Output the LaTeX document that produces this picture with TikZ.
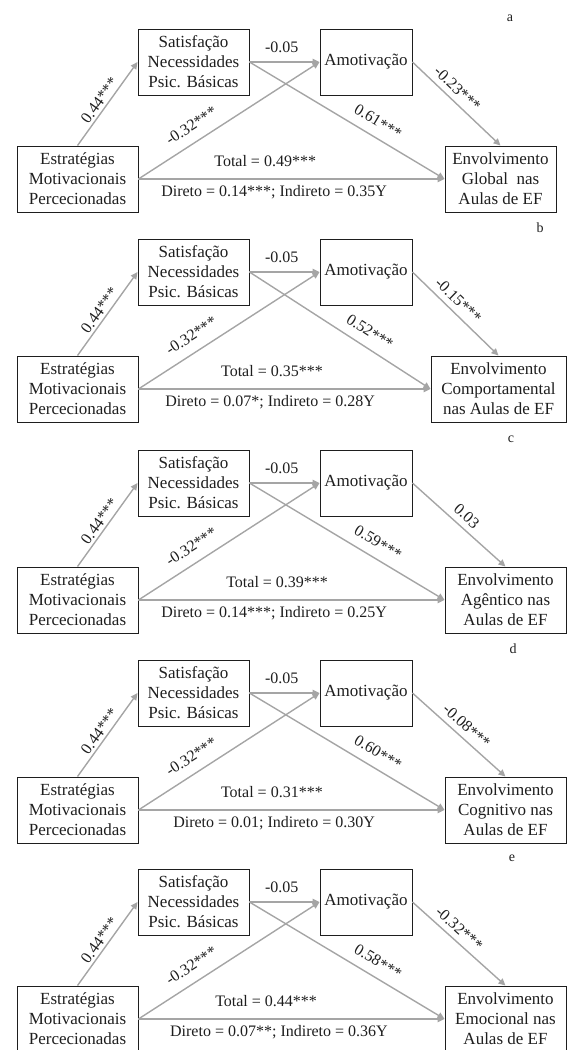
\documentclass[tikz,border=0pt]{standalone}
\usepackage{fontspec}
\setmainfont{Liberation Serif}
\usetikzlibrary{arrows.meta}
\definecolor{arrgray}{RGB}{165,165,165}
\definecolor{ink}{RGB}{30,30,30}
\tikzset{
  box/.style={draw=ink, line width=0.9pt, text=ink, align=center, inner sep=0pt,
    minimum height=66, font=\fontsize{17}{20}\selectfont},
  arr/.style={draw=arrgray, line width=1.4pt, -{Triangle[length=7pt,width=6.5pt]}},
  lab/.style={text=ink, font=\fontsize{16}{18}\selectfont, inner sep=1pt},
  lett/.style={text=ink, font=\fontsize{14}{16}\selectfont},
}
% #1 y offset, #2 letter, #3 letter x, #4 outcome lines, #5 outcome centre x,
% #6 outcome width, #7 Satisf->Env label, #8 Amot->Env label, #9 total label
\newcommand\Panel[9]{%
\begin{scope}[shift={(0,#1)}]
  \node[lett] (L#2) at (#3,18) {#2};
  \node[box, minimum width=111] (S#2) at (193.5,62) {Satisfação\\Necessidades\\Psic. Básicas};
  \node[box, minimum width=92] (A#2) at (366,62) {Amotivação};
  \node[box, minimum width=121] (E#2) at (77.5,179) {Estratégias\\Motivacionais\\Percecionadas};
  \node[box, minimum width=#6] (V#2) at (#5,179) {Envolvimento\\#4};
  \draw[arr] (E#2.north) -- node[lab, sloped, above=1.5pt, pos=0.48] {0.44***} (S#2.west);
  \draw[arr] (S#2.east) -- node[lab, above=8pt, pos=0.46] {-0.05} (A#2.west);
  \draw[arr] (S#2.east) -- node[lab, sloped, above=8pt, pos=0.62] {#7} (V#2.west);
  \draw[arr] (E#2.east) -- node[lab, sloped, above=9pt, pos=0.34] {-0.32***} (A#2.west);
  \draw[arr] (A#2.east) -- node[lab, sloped, above=4.5pt, pos=\PApos] {#8} (V#2.north);
  \draw[arr] (E#2.east) -- node[lab, above=11pt, pos=\PTpos] {#9}
     node[lab, below=4.5pt, pos=\PDpos] {\PDireto} (V#2.west);
\end{scope}}
\begin{document}
\begin{tikzpicture}[x=1pt, y=-1pt]
\useasboundingbox (0,0) rectangle (567,1050);
\clip (0,0) rectangle (567,1050);
\def\PApos{0.42}\def\PTpos{0.414}\def\PDpos{0.443}
\def\PDireto{Direto = 0.14***; Indireto = 0.35Υ}
\Panel{0}{a}{510}{Global~ nas\\Aulas de EF}{500.5}{111}{0.61***}{-0.23***}{Total = 0.49***}
\def\PApos{0.44}\def\PTpos{0.457}\def\PDpos{0.451}
\def\PDireto{Direto = 0.07*; Indireto = 0.28Υ}
\Panel{210}{b}{540}{Comportamental\\nas Aulas de EF}{498.5}{135}{0.52***}{-0.15***}{Total = 0.35***}
\def\PApos{0.5}\def\PTpos{0.453}\def\PDpos{0.443}
\def\PDireto{Direto = 0.14***; Indireto = 0.25Υ}
\Panel{421}{c}{511}{Agêntico nas\\Aulas de EF}{505.5}{121}{0.59***}{0.03}{Total = 0.39***}
\def\PApos{0.5}\def\PTpos{0.436}\def\PDpos{0.443}
\def\PDireto{Direto = 0.01; Indireto = 0.30Υ}
\Panel{631}{d}{513}{Cognitivo nas\\Aulas de EF}{505.5}{121}{0.60***}{-0.08***}{Total = 0.31***}
\def\PApos{0.42}\def\PTpos{0.417}\def\PDpos{0.459}
\def\PDireto{Direto = 0.07**; Indireto = 0.36Υ}
\Panel{840}{e}{512}{Emocional nas\\Aulas de EF}{505.5}{121}{0.58***}{-0.32***}{Total = 0.44***}
\end{tikzpicture}
\end{document}
